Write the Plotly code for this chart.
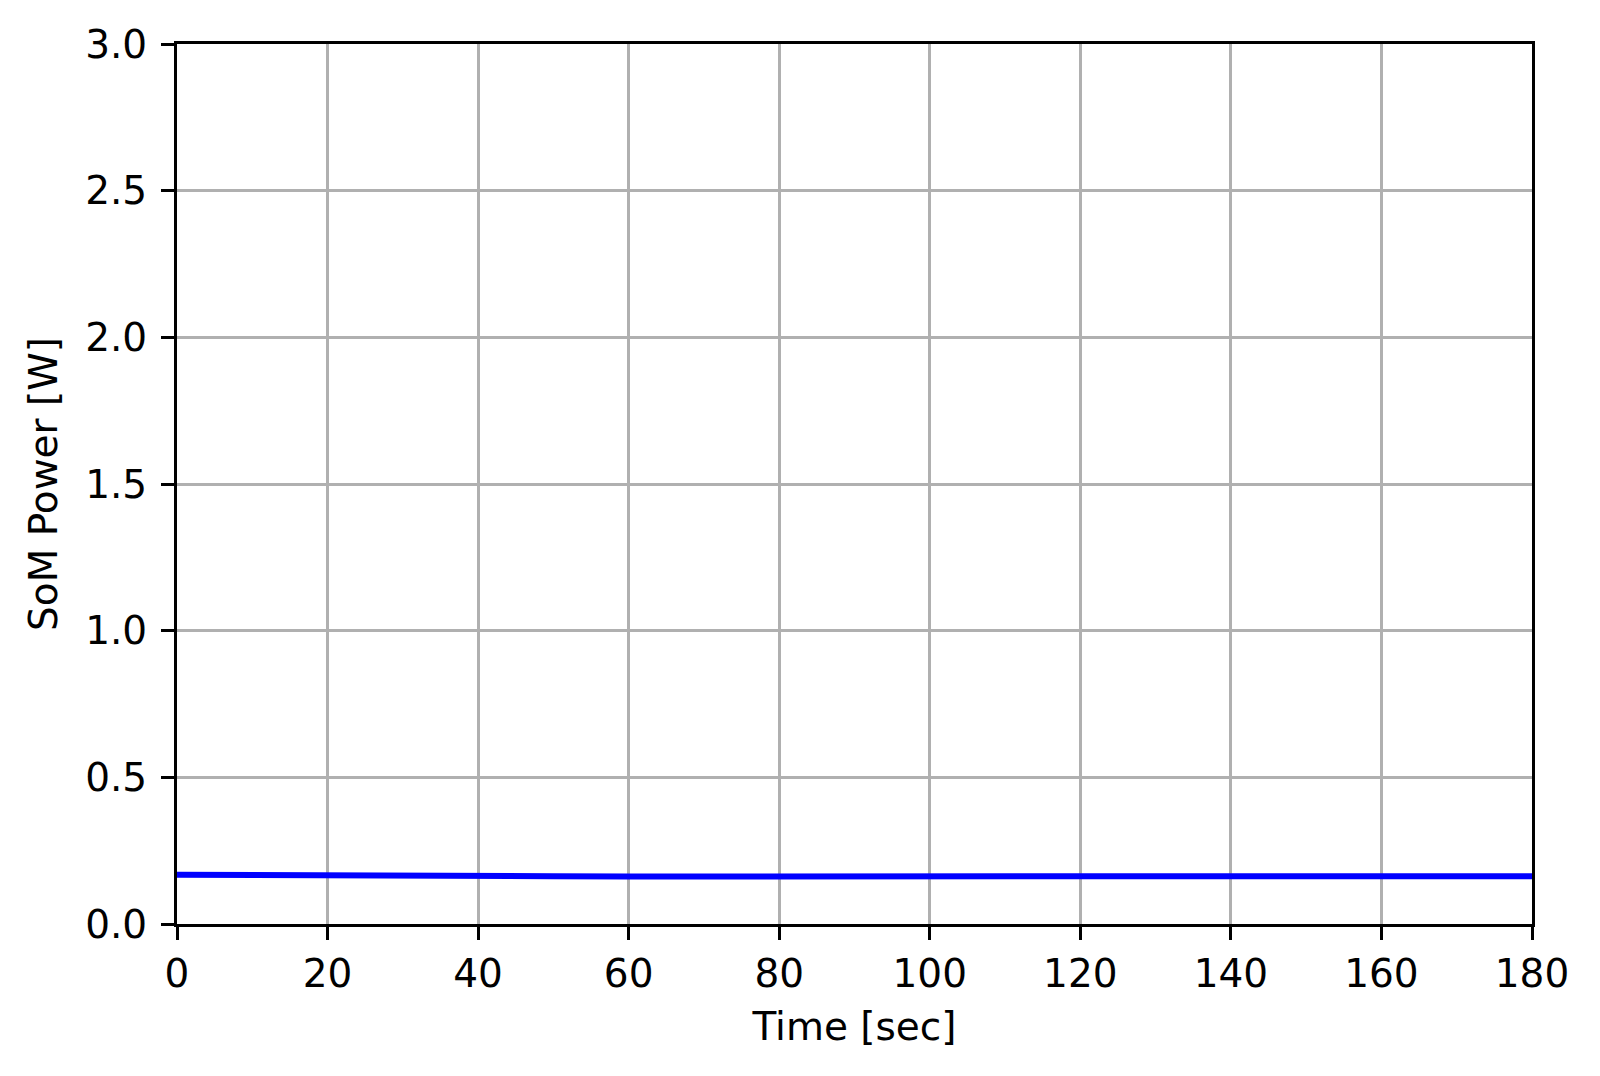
import plotly.graph_objects as go

time_sec = [0, 10, 20, 30, 40, 50, 60, 70, 80, 90, 100, 110, 120, 130, 140, 150, 160, 170, 180]
som_power_w = [0.168, 0.166, 0.165, 0.165, 0.164, 0.163, 0.162, 0.162, 0.161, 0.161,
               0.161, 0.161, 0.161, 0.162, 0.162, 0.163, 0.163, 0.163, 0.163]
x_ticks = [0, 20, 40, 60, 80, 100, 120, 140, 160, 180]
y_ticks = [0.0, 0.5, 1.0, 1.5, 2.0, 2.5, 3.0]

FONT = "DejaVu Sans"
FS = 39

fig = go.Figure()
fig.add_trace(go.Scatter(x=time_sec, y=som_power_w, mode="lines",
                         line=dict(color="#0000ff", width=6), showlegend=False))

axis_common = dict(
    showline=True, linecolor="black", linewidth=3, mirror=True,
    ticks="outside", ticklen=13, tickwidth=3, tickcolor="black",
    showgrid=True, gridcolor="#b0b0b0", gridwidth=3,
    zeroline=False,
    tickfont=dict(family=FONT, size=FS, color="black"),
)

fig.update_layout(
    width=1584, height=1060,
    paper_bgcolor="white", plot_bgcolor="white",
    margin=dict(l=169, r=60, t=36, b=144),
    font=dict(family=FONT, size=FS, color="black"),
    xaxis=dict(range=[0, 180], tickvals=x_ticks, ticktext=[str(v) for v in x_ticks],
               title=dict(text="Time [sec]", font=dict(family=FONT, size=FS), standoff=18),
               **axis_common),
    yaxis=dict(range=[0, 3.0], tickvals=y_ticks, ticktext=[f"{v:.1f}" for v in y_ticks],
               ticklabelstandoff=6,
               title=dict(text="SoM Power [W]", font=dict(family=FONT, size=FS), standoff=16),
               **axis_common),
)

fig.write_html("out.html")
